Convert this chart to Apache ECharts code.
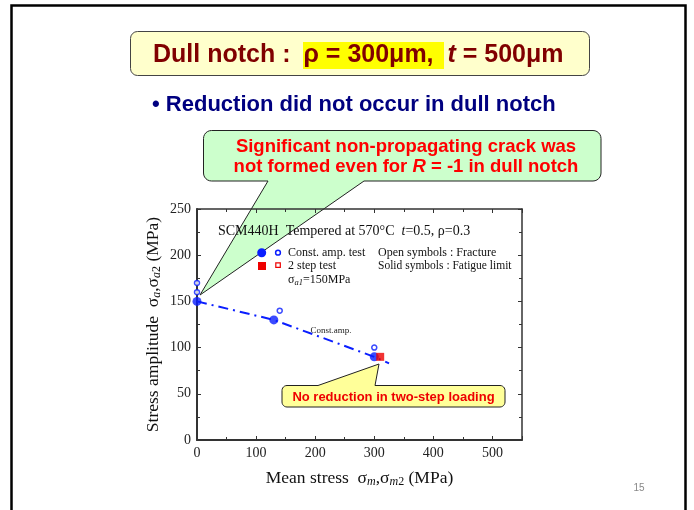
<!DOCTYPE html>
<html><head><meta charset="utf-8">
<script src="https://cdn.jsdelivr.net/npm/echarts@6/dist/echarts.min.js"></script>
<style>html,body{margin:0;padding:0;background:#fff}#c{width:694px;height:510px}</style>
</head><body><div id="c"></div>
<script>
// ---- data ----
const xTickLabels = [0, 100, 200, 300, 400, 500];
const yTickLabels = [0, 50, 100, 150, 200, 250];
const constFatigueLimit = [[0,150],[130,130],[300,90]];   // solid blue circles
const constFracture = [[0,160],[0,170],[140,140],[300,100]]; // open blue circles
const twoStepLimit = [[310,90]];                            // solid red square
const constAmpCurve = [[0,150],[130,130],[300,90],[325,83]]; // dash-dot line

const SERIF = '"Liberation Serif","Times New Roman",serif';
const SANS = '"Liberation Sans",Arial,sans-serif';
const BLUE = '#0a1eff';
const RED = '#ee0000';
const AX = '#333';

// rounded box with a pointer, returned as polygon points
function calloutPoints(x0, y0, x1, y1, r, side, a, b, tip) {
  const pts = [];
  const arc = (cx, cy, s, e) => {
    for (let i = 0; i <= 6; i++) {
      const t = s + (e - s) * i / 6;
      pts.push([cx + r * Math.cos(t), cy + r * Math.sin(t)]);
    }
  };
  const P = Math.PI;
  arc(x0 + r, y0 + r, P, 1.5 * P);             // top-left
  if (side === 'top') { pts.push([a, y0], tip, [b, y0]); }
  arc(x1 - r, y0 + r, 1.5 * P, 2 * P);         // top-right
  arc(x1 - r, y1 - r, 0, 0.5 * P);             // bottom-right
  if (side === 'bottom') { pts.push([b, y1], tip, [a, y1]); }
  arc(x0 + r, y1 - r, 0.5 * P, P);             // bottom-left
  return pts;
}

const chart = echarts.init(document.getElementById('c'));

const subRich = {
  g: {fontFamily: SERIF, fontSize: 17.5, color: '#111', lineHeight: 20},
  s: {fontFamily: SERIF, fontSize: 12, fontStyle: 'italic', color: '#111', verticalAlign: 'bottom', lineHeight: 12},
  n: {fontFamily: SERIF, fontSize: 12, color: '#111', verticalAlign: 'bottom', lineHeight: 12}
};

const axisCommon = {
  type: 'value',
  axisLine: {show: true, onZero: false, lineStyle: {color: AX, width: 2}},
  axisTick: {show: true, inside: true, length: 4, lineStyle: {color: AX, width: 1}},
  minorTick: {show: true, splitNumber: 2, length: 3, lineStyle: {color: AX, width: 1}},
  splitLine: {show: false},
  minorSplitLine: {show: false}
};
const secondaryLine = {show: true, onZero: false, lineStyle: {color: AX, width: 1.5}};

chart.setOption({
  backgroundColor: '#fff',
  animation: false,
  grid: {left: 197, right: 172, top: 209, bottom: 70, show: false},
  xAxis: [
    Object.assign({}, axisCommon, {
      min: 0, max: 550, interval: 100,
      axisLabel: {fontFamily: SERIF, fontSize: 14, color: '#222', margin: 6,
        formatter: v => xTickLabels.includes(v) ? String(v) : ''},
      name: '{g|Mean stress  σ}{s|m}{g|,σ}{s|m}{n|2}{g| (MPa)}',
      nameLocation: 'middle', nameGap: 28,
      nameTextStyle: {rich: subRich}
    }),
    Object.assign({}, axisCommon, {
      position: 'top', min: 0, max: 550, interval: 100,
      axisLine: secondaryLine,
      axisLabel: {show: false}
    })
  ],
  yAxis: [
    Object.assign({}, axisCommon, {
      min: 0, max: 250, interval: 50,
      axisLabel: {fontFamily: SERIF, fontSize: 14, color: '#222', margin: 6,
        formatter: v => yTickLabels.includes(v) ? String(v) : ''},
      name: '{g|Stress amplitude  σ}{s|a}{g|,σ}{s|a}{n|2}{g| (MPa)}',
      nameLocation: 'middle', nameGap: 34, nameRotate: 90,
      nameTextStyle: {rich: subRich}
    }),
    Object.assign({}, axisCommon, {
      position: 'right', min: 0, max: 250, interval: 50,
      axisLine: secondaryLine,
      axisLabel: {show: false}
    })
  ],
  series: [
    {
      name: 'Const.amp.', type: 'line', data: constAmpCurve, symbol: 'none',
      lineStyle: {color: BLUE, width: 2, type: [10, 5, 2, 5]}, z: 2
    },
    {
      name: 'Const. amp. test (fracture)', type: 'scatter', data: constFracture,
      symbol: 'circle', symbolSize: 5,
      itemStyle: {color: '#fff', borderColor: BLUE, borderWidth: 1.5}, z: 3
    },
    {
      name: 'Const. amp. test (fatigue limit)', type: 'scatter', data: constFatigueLimit,
      symbol: 'circle', symbolSize: 9, itemStyle: {color: BLUE}, z: 4
    },
    {
      name: '2 step test (fatigue limit)', type: 'scatter', data: twoStepLimit,
      symbol: 'rect', symbolSize: 8, itemStyle: {color: RED}, z: 5
    }
  ],
  graphic: [
    // slide frame
    {type: 'polyline', shape: {points: [[11.5, 520], [11.5, 5.5], [685.5, 5.5], [685.5, 520]]},
     style: {stroke: '#000', lineWidth: 2.5, fill: null}, z: 100},
    // title box
    {type: 'rect', shape: {x: 130.5, y: 31.5, width: 459, height: 44, r: 7},
     style: {fill: '#ffffcc', stroke: '#444', lineWidth: 1}, z: 10},
    {type: 'rect', shape: {x: 303, y: 42, width: 141, height: 27},
     style: {fill: '#ffff00'}, z: 11},
    {type: 'text', x: 153, y: 55, z: 12,
     style: {text: '{a|Dull notch : }{c|ρ = 300μm,  }{b|t}{a| = 500μm}',
       verticalAlign: 'middle', align: 'left',
       rich: {
         a: {fontFamily: SANS, fontSize: 25, fontWeight: 'bold', fill: '#800000'},
         c: {fontFamily: SANS, fontSize: 25, fontWeight: 'bold', fill: '#800000', padding: [0, 0, 0, 6]},
         b: {fontFamily: SANS, fontSize: 25, fontWeight: 'bold', fontStyle: 'italic', fill: '#800000'}
       }}},
    // subtitle
    {type: 'text', x: 152, y: 105, z: 12,
     style: {text: '• Reduction did not occur in dull notch', fontFamily: SANS, fontSize: 22,
       fontWeight: 'bold', fill: '#000080', verticalAlign: 'middle', align: 'left'}},
    // green callout
    {type: 'polygon', z: -1,
     shape: {points: calloutPoints(203.5, 130.5, 601, 181, 8, 'bottom', 268, 364, [200, 295])},
     style: {fill: '#ccffcc', stroke: '#222', lineWidth: 1}},
    {type: 'text', x: 406, y: 147, z: 12,
     style: {text: 'Significant non-propagating crack was', fontFamily: SANS, fontSize: 18.5,
       fontWeight: 'bold', fill: '#ff0000', align: 'center', verticalAlign: 'middle'}},
    {type: 'text', x: 406, y: 167, z: 12,
     style: {text: '{a|not formed even for }{b|R}{a| = -1 in dull notch}', align: 'center', verticalAlign: 'middle',
       rich: {
         a: {fontFamily: SANS, fontSize: 18.5, fontWeight: 'bold', fill: '#ff0000'},
         b: {fontFamily: SANS, fontSize: 18.5, fontWeight: 'bold', fontStyle: 'italic', fill: '#ff0000'}
       }}},
    // yellow callout
    {type: 'polygon', z: 20,
     shape: {points: calloutPoints(282, 385.5, 505, 407, 5, 'top', 318, 375, [379, 364])},
     style: {fill: '#ffff99', stroke: '#222', lineWidth: 1}},
    {type: 'text', x: 393.5, y: 397, z: 21,
     style: {text: 'No reduction in two-step loading', fontFamily: SANS, fontSize: 13,
       fontWeight: 'bold', fill: '#ee0000', align: 'center', verticalAlign: 'middle'}},
    // in-plot annotations
    {type: 'text', x: 218, y: 231, z: 12,
     style: {text: '{a|SCM440H  Tempered at 570°C  }{b|t}{a|=0.5, ρ=0.3}', align: 'left', verticalAlign: 'middle',
       rich: {
         a: {fontFamily: SERIF, fontSize: 14, fill: '#111'},
         b: {fontFamily: SERIF, fontSize: 14, fontStyle: 'italic', fill: '#111'}
       }}},
    {type: 'circle', shape: {cx: 261.7, cy: 252.7, r: 4.5}, style: {fill: BLUE}, z: 12},
    {type: 'circle', shape: {cx: 278, cy: 252.7, r: 2.4}, style: {fill: '#fff', stroke: BLUE, lineWidth: 1.5}, z: 12},
    {type: 'rect', shape: {x: 258, y: 262, width: 8, height: 8}, style: {fill: RED}, z: 12},
    {type: 'rect', shape: {x: 275.8, y: 262.8, width: 4.5, height: 4.5}, style: {fill: '#fff', stroke: RED, lineWidth: 1.2}, z: 12},
    {type: 'text', x: 288, y: 253, z: 12,
     style: {text: 'Const. amp. test', fontFamily: SERIF, fontSize: 12, fill: '#111', verticalAlign: 'middle'}},
    {type: 'text', x: 288, y: 266, z: 12,
     style: {text: '2 step test', fontFamily: SERIF, fontSize: 12, fill: '#111', verticalAlign: 'middle'}},
    {type: 'text', x: 288, y: 280, z: 12,
     style: {text: '{a|σ}{s|a1}{a|=150MPa}', verticalAlign: 'middle',
       rich: {
         a: {fontFamily: SERIF, fontSize: 12, fill: '#111', lineHeight: 14},
         s: {fontFamily: SERIF, fontSize: 8.5, fontStyle: 'italic', fill: '#111', verticalAlign: 'bottom', lineHeight: 9}
       }}},
    {type: 'text', x: 378, y: 253, z: 12,
     style: {text: 'Open symbols : Fracture', fontFamily: SERIF, fontSize: 12, fill: '#111', verticalAlign: 'middle'}},
    {type: 'text', x: 378, y: 266, z: 12,
     style: {text: 'Solid symbols : Fatigue limit', fontFamily: SERIF, fontSize: 11.5, fill: '#111', verticalAlign: 'middle'}},
    {type: 'text', x: 331, y: 331, z: 12,
     style: {text: 'Const.amp.', fontFamily: SERIF, fontSize: 9, fill: '#222', align: 'center', verticalAlign: 'middle'}},
    // page number
    {type: 'text', x: 639, y: 488, z: 12,
     style: {text: '15', fontFamily: SANS, fontSize: 10, fill: '#888', align: 'center', verticalAlign: 'middle'}}
  ]
});
</script></body></html>
